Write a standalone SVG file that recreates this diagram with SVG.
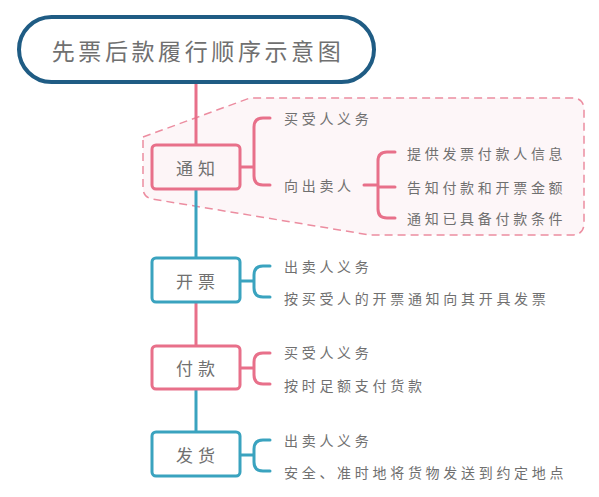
<svg xmlns="http://www.w3.org/2000/svg" width="599" height="497" viewBox="0 0 599 497">
<style>
text{font-family:"Noto Sans CJK SC","Noto Sans",sans-serif;fill:#707070;dominant-baseline:central}
.t{font-size:14px;letter-spacing:3.7px}
.n{font-size:17px;letter-spacing:5px;text-anchor:middle}
.pk{stroke:#e8708a}
.bl{stroke:#3aa3bf}
.ln{fill:none;stroke-width:3;stroke-linecap:round}
.box{fill:#fff;stroke-width:3}
</style>
<rect width="599" height="497" fill="#fff"/>
<path d="M143,137 L250,98 L572,98 Q584,98 584,110 L584,223 Q584,235 572,235 L370,235 L152,199 Q143,197 143,188 Z" fill="#fdf6f8" stroke="#ec8da0" stroke-width="1.5" stroke-dasharray="8,5"/>
<g id="connectors">
<line x1="196" y1="83" x2="196" y2="145" class="ln pk"/>
<line x1="196" y1="189" x2="196" y2="258" class="ln bl"/>
<line x1="196" y1="302" x2="196" y2="346" class="ln pk"/>
<line x1="196" y1="389" x2="196" y2="432" class="ln bl"/>
<path d="M240,167 H253 M270,118 H263 Q254,118 254,127 V176 Q254,185 263,185 H270" class="ln pk"/>
<path d="M364,185 H378 M395,152 H387 Q378,152 378,161 V209 Q378,218 387,218 H395 M378,187 H395" class="ln pk"/>
<path d="M240,281 H253 M270,266 H263 Q254,266 254,275 V288 Q254,297 263,297 H270" class="ln bl"/>
<path d="M240,368 H253 M270,353 H263 Q254,353 254,362 V375 Q254,384 263,384 H270" class="ln pk"/>
<path d="M240,455 H253 M270,440 H263 Q254,440 254,449 V462 Q254,471 263,471 H270" class="ln bl"/>
</g>
<g id="title">
<rect x="19" y="17" width="355" height="65" rx="32.5" fill="#fff" stroke="#1f5c84" stroke-width="4"/>
<text x="198" y="50" style="font-size:23px;letter-spacing:3.6px;text-anchor:middle">先票后款履行顺序示意图</text>
</g>
<g id="tongzhi">
<rect x="152" y="145" width="88" height="44" rx="4" class="box pk" style="fill:#fdf5f7"/>
<text x="198" y="167" class="n">通知</text>
<text x="284" y="118" class="t">买受人义务</text>
<text x="284" y="185" class="t">向出卖人</text>
<text x="407" y="153" class="t">提供发票付款人信息</text>
<text x="407" y="187" class="t">告知付款和开票金额</text>
<text x="407" y="218" class="t">通知已具备付款条件</text>
</g>
<g id="kaipiao">
<rect x="152" y="258" width="88" height="44" rx="4" class="box bl"/>
<text x="198" y="280" class="n">开票</text>
<text x="284" y="266" class="t">出卖人义务</text>
<text x="284" y="298" class="t">按买受人的开票通知向其开具发票</text>
</g>
<g id="fukuan">
<rect x="152" y="346" width="88" height="43" rx="4" class="box pk"/>
<text x="198" y="367" class="n">付款</text>
<text x="284" y="352" class="t">买受人义务</text>
<text x="284" y="385" class="t">按时足额支付货款</text>
</g>
<g id="fahuo">
<rect x="152" y="432" width="88" height="44" rx="4" class="box bl"/>
<text x="198" y="454" class="n">发货</text>
<text x="284" y="440" class="t">出卖人义务</text>
<text x="284" y="472" class="t">安全、准时地将货物发送到约定地点</text>
</g>
</svg>
